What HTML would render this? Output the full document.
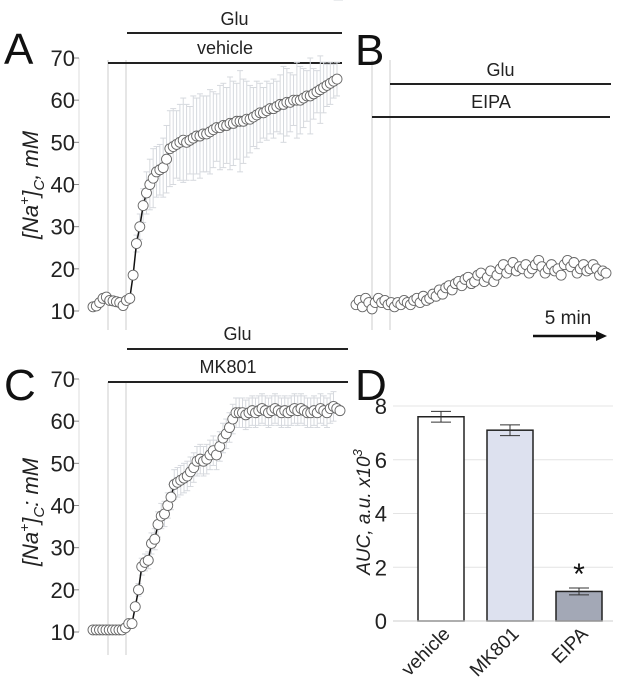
<!DOCTYPE html>
<html><head><meta charset="utf-8"><style>
body{margin:0;background:#fff;}
svg{display:block;font-family:"Liberation Sans",sans-serif;}
</style></head><body>
<svg id="fig" width="624" height="696" viewBox="0 0 624 696"></svg>
<script>
// Panel A data (vehicle)
const aValues=[11,11.2,12,13,13.3,12.5,12.4,12.2,12,11.3,12.5,13,18.5,26,30,35,38,40,41.5,43,43.5,44,46,48.5,49,49.5,50,50.5,50,50.5,51,51.5,51.5,52,52,52.5,53,53.5,53.5,54,54,54.5,54.5,55,55,55,55.5,55.5,56,56.5,57,57,57.5,58,58,58.5,59,59,59.5,59.5,60,60,60,60.5,61,61,61.5,62,62.5,63,63.5,64,64.5,65];
const aErrors=[0.5,0.5,0.5,0.5,0.5,0.5,0.5,0.5,0.5,0.5,0.5,0.5,1,2,3,4,5,6,7,6,6,7,8,9,9,8,9,10,9,8,10,9,10,9,9,10,9,8,10,10,9,11,10,9,12,10,9,8,7,8,7,6,7,6,7,6,7,9,8,7,6,9,8,7,6,9,6,5,8,6,5,5,4,4];
// Panel B data (EIPA)
const bValues=[11.5,12.5,11,13,12,10.5,12,13,12,12.5,11.5,12,11,12,11.5,12.5,12,11.5,12.5,13,12,13.5,12.5,13,14,13.5,15,14,15.5,16,15,16.5,17,16,17.5,18,16.5,17,18.5,19,17,18,19.5,17,18.5,20,21,19,20,21.5,19.5,20.5,20,21,19,20,21,22,20.5,19,20,21,19.5,20,18.5,21,22,20.5,21.5,19,20,21,19.5,20,21,20,18.5,19.5,19];
// Panel C data (MK801)
const cValues=[10.5,10.5,10.5,10.5,10.5,10.5,10.5,10.5,10.5,10.5,11,12,12,16,20,25.5,26.5,27,31,32,35.5,37.5,38,40,42,45,45.5,46,46.5,47,48,49,50.5,51,50.5,51,52,53,52,54,56,57,58.5,60.5,62,62,62,61.5,62,62.5,62,62.5,63,62.5,62,62.5,63,62.5,62,62.5,62,62.5,63,62.5,63,62.5,62,62,62.5,62,63,62.5,62,63,63.5,63,62.5];
const cErrors=[0.3,0.3,0.3,0.3,0.3,0.3,0.3,0.3,0.3,0.3,0.5,0.8,1,1,1.5,2,2,2,2.5,2.5,3,3,3,3,3,3.5,3.5,3.5,3.5,3.5,3.5,3.5,3.5,3.5,3.5,3.5,3.5,3.5,3.5,3.5,3.5,3.5,3.5,3.5,3.5,3.5,3.5,3.5,3.5,3.5,3.5,3.5,3.5,3.5,3.5,3.5,3.5,3.5,3.5,3.5,3.5,3.5,3.5,3.5,3.5,3.5,3.5,3.5,3.5,3.5,3.5,3.5,3.5,3.5,3.5];
const traceTicks=[10,20,30,40,50,60,70];
// Panel D data
const dCategories=["vehicle","MK801","EIPA"];
const dValues=[7.6,7.1,1.1];
const dErrors=[0.2,0.2,0.13];
const dTicks=[0,2,4,6,8];

const svg=document.getElementById('fig');
const NS='http://www.w3.org/2000/svg';
function mk(tag,attrs,parent){const e=document.createElementNS(NS,tag);for(const k in attrs)e.setAttribute(k,attrs[k]);(parent||svg).appendChild(e);return e;}
function txt(s,attrs,parent){const e=mk('text',attrs,parent);e.textContent=s;return e;}

function tracePanel(id,vals,errs,x0,x1,yTop,yBot,axisX,showAxis){
  const g=mk('g',{});
  
  
  const ys=v=>yBot-(v-10)/60*(yBot-yTop);
  const xs=i=>x0+i*(x1-x0)/(vals.length-1);
  if(showAxis){
    const ax=mk('line',{x1:axisX,y1:yTop,x2:axisX,y2:yBot,stroke:'#ddd','stroke-width':1},g);
    
    
    traceTicks.forEach(t=>{
      mk('line',{x1:axisX-5,y1:ys(t),x2:axisX,y2:ys(t),stroke:'#888'},g);
      const lab=txt(String(t),{x:axisX-4,y:ys(t)+8,'font-size':22,'text-anchor':'end',fill:'#222'},g);
      
      
    });
  }
  if(errs){
    vals.forEach((v,i)=>{
      const x=xs(i),e=errs[i];
      mk('line',{x1:x,y1:ys(v-e),x2:x,y2:ys(v+e),stroke:'#d6d9de','stroke-width':1},g);
      mk('line',{x1:x-3,y1:ys(v-e),x2:x+3,y2:ys(v-e),stroke:'#d6d9de'},g);
      mk('line',{x1:x-3,y1:ys(v+e),x2:x+3,y2:ys(v+e),stroke:'#d6d9de'},g);
    });
  }
  const line=mk('polyline',{points:vals.map((v,i)=>xs(i)+','+ys(v)).join(' '),fill:'none',stroke:'#111','stroke-width':1.5},g);
  
  
  vals.forEach((v,i)=>{
    const c=mk('circle',{cx:xs(i),cy:ys(v),r:5,fill:'#fff',stroke:'#666','stroke-width':0.9},g);
    
    
  });
}
function vline(x,y1,y2){const l=mk('line',{x1:x,y1:y1,x2:x,y2:y2,stroke:'#ccc','stroke-width':1});}
function bar(label,x1,x2,y,ty){const l=mk('line',{x1:x1,y1:y,x2:x2,y2:y,stroke:'#222','stroke-width':2});const t=txt(label,{x:(x1+x2)/2,y:ty,'font-size':18,'text-anchor':'middle',fill:'#222'});}
function letter(s,x,y){const t=txt(s,{x:x,y:y,'font-size':44,fill:'#111'});}
function ylab(x,y,sub){const t=txt('',{transform:`translate(${x},${y}) rotate(-90)`,'font-size':22,'font-style':'italic','text-anchor':'middle',fill:'#222'});t.innerHTML=`[Na<tspan dy="-9" font-size="14">+</tspan><tspan dy="9">]</tspan><tspan dy="6" font-size="15">C</tspan><tspan dy="-6">${sub} mM</tspan>`;}

// Panel A
vline(108,60,330);vline(126,60,330);
bar('Glu',127,342,33,25);bar('vehicle',108,342,63,54);
letter('A',4,64);ylab(38,185,',');
tracePanel('a',aValues,aErrors,93,337,58,311,79,true);
// Panel B
vline(372,60,330);vline(390,60,330);
bar('Glu',390,611,84,76);bar('EIPA',372,610,117,108);
letter('B',355,65);
tracePanel('b',bValues,null,356,606,58,311,0,false);
const sm=txt('5 min',{x:568,y:324,'font-size':19,'text-anchor':'middle',fill:'#222'});
const sb=mk('line',{x1:533,y1:336,x2:598,y2:336,stroke:'#111','stroke-width':2.5});
mk('polygon',{points:'596,331 607,336 596,341',fill:'#111'});
// Panel C
vline(108,382,655);vline(126,382,655);
bar('Glu',127,348,349,340);bar('MK801',108,348,382,373);
letter('C',4,400);ylab(38,512,':');
tracePanel('c',cValues,cErrors,93,340,379,632,79,true);

// Panel D
letter('D',355,400);
(function(){
  const g=mk('g',{});
  
  
  const yTop=406,yBot=621,ax=393,right=613;
  const ys=v=>yBot-v/8*(yBot-yTop);
  dTicks.forEach(t=>{
    const gl=mk('line',{x1:ax,y1:ys(t),x2:right,y2:ys(t),stroke:'#e4e4e4','stroke-width':1},g);
    
    
    const l=txt(String(t),{x:ax-6,y:ys(t)+8,'font-size':22,'text-anchor':'end',fill:'#222'},g);
    
    
  });
  const yt=txt('',{transform:'translate(370,512) rotate(-90)','font-size':19,'font-style':'italic','text-anchor':'middle',fill:'#222'},g);
  
  
  yt.innerHTML='AUC, a.u. x10<tspan dy="-8" font-size="13">3</tspan>';
  const fills=['#ffffff','#dde1ef','#a3a8b6'];
  const bw=46,step=69,first=418;
  dCategories.forEach((c,i)=>{
    const x=first+i*step;
    const r=mk('rect',{x:x,y:ys(dValues[i]),width:bw,height:yBot-ys(dValues[i]),fill:fills[i],stroke:'#222','stroke-width':1.5},g);
    
    
    const cx=x+bw/2,hi=ys(dValues[i]+dErrors[i]),lo=ys(dValues[i]-dErrors[i]);
    const eb=mk('line',{x1:cx,y1:hi,x2:cx,y2:lo,stroke:'#333'},g);
    
    
    mk('line',{x1:cx-10,y1:hi,x2:cx+10,y2:hi,stroke:'#333'},g);
    mk('line',{x1:cx-10,y1:lo,x2:cx+10,y2:lo,stroke:'#333'},g);
    const l=txt(c,{transform:`translate(${cx+10},${yBot+14}) rotate(-45)`,'font-size':19,'text-anchor':'end',fill:'#222'},g);
    
    
  });
  mk('line',{x1:ax,y1:yBot,x2:right,y2:yBot,stroke:'#ccc'},g);
  const st=txt('*',{x:first+2*step+bw/2,y:ys(dValues[2]+dErrors[2])-4,'font-size':30,'text-anchor':'middle',fill:'#111'},g);
  
  
})();
</script>
</body></html>
